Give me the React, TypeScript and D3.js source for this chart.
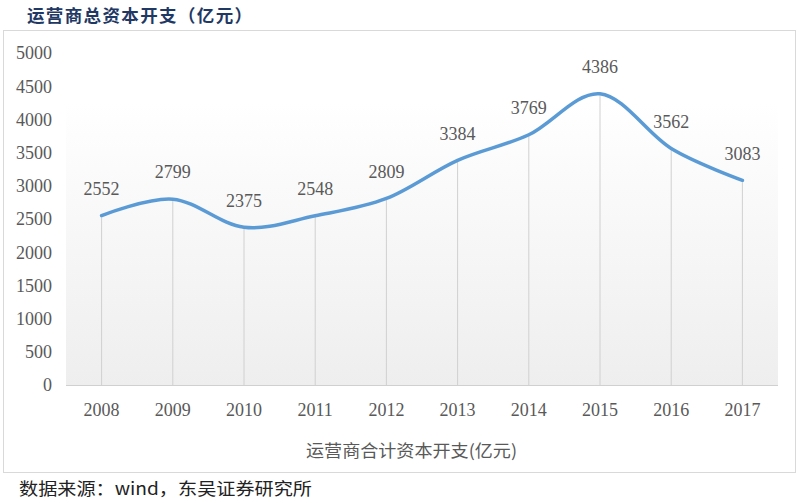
import React from "react";
import * as d3 from "d3";

const years = ["2008", "2009", "2010", "2011", "2012", "2013", "2014", "2015", "2016", "2017"];
const capex = [2552, 2799, 2375, 2548, 2809, 3384, 3769, 4386, 3562, 3083];
const yTicks = [0, 500, 1000, 1500, 2000, 2500, 3000, 3500, 4000, 4500, 5000];

const W = 800;
const H = 503;
const left = 66;
const right = 778;
const top = 53;
const bottom = 385;

export default function App() {
  const x = d3.scaleBand<string>().domain(years).range([left, right]);
  const y = d3.scaleLinear().domain([0, 5000]).range([bottom, top]);
  const cx = (d: string) => (x(d) as number) + x.bandwidth() / 2;
  const pts: [number, number][] = years.map((yr, i) => [cx(yr), y(capex[i])]);
  const line = d3.line().curve(d3.curveCardinal.tension(0))(pts) || "";
  const numFont = "'Liberation Serif', 'DejaVu Serif', serif";
  const cjk = "'Noto Sans CJK SC', sans-serif";
  return (
    <svg width={W} height={H} style={{ position: "absolute", left: 0, top: 0, background: "#fff" }}>
      <defs>
        <linearGradient id="bg" x1="0" y1="0" x2="0" y2="1">
          <stop offset="0" stopColor="#ffffff" />
          <stop offset="0.15" stopColor="#ffffff" />
          <stop offset="1" stopColor="#eeeeee" />
        </linearGradient>
      </defs>
      <text x={27} y={16} dy="0.35em" fontFamily={cjk} fontWeight="bold" fontSize={17.5} fill="#1f3864" textLength={225} lengthAdjust="spacing">
        运营商总资本开支（亿元）
      </text>
      <rect x={3.5} y={30.5} width={792} height={442} fill="#fff" stroke="#d9d9d9" strokeWidth={1} />
      <rect x={left} y={top} width={right - left} height={bottom - top} fill="url(#bg)" />
      {years.map((yr, i) => (
        <line key={yr} x1={cx(yr)} x2={cx(yr)} y1={y(capex[i])} y2={bottom} stroke="#d0d0d0" strokeWidth={1} />
      ))}
      <line x1={left} x2={right} y1={bottom + 0.5} y2={bottom + 0.5} stroke="#d0d0d0" strokeWidth={1} />
      {yTicks.map((t) => (
        <text key={t} x={52} y={y(t)} dy="0.35em" textAnchor="end" fontFamily={numFont} fontSize={18} fill="#595959">
          {t}
        </text>
      ))}
      {years.map((yr) => (
        <text key={yr} x={cx(yr)} y={410} dy="0.35em" textAnchor="middle" fontFamily={numFont} fontSize={18} fill="#595959">
          {yr}
        </text>
      ))}
      <path d={line} fill="none" stroke="#5b9bd5" strokeWidth={3.5} strokeLinecap="round" />
      {years.map((yr, i) => (
        <text key={yr} x={cx(yr)} y={y(capex[i]) - 27} dy="0.35em" textAnchor="middle" fontFamily={numFont} fontSize={18} fill="#595959">
          {capex[i]}
        </text>
      ))}
      <text x={306} y={451} dy="0.35em" fontFamily={cjk} fontSize={17} fill="#595959" textLength={211} lengthAdjust="spacingAndGlyphs">
        运营商合计资本开支(亿元)
      </text>
      <text x={19} y={489} dy="0.35em" fontFamily={cjk} fontSize={17} fill="#222" textLength={293} lengthAdjust="spacingAndGlyphs">
        数据来源：wind，东吴证券研究所
      </text>
    </svg>
  );
}
